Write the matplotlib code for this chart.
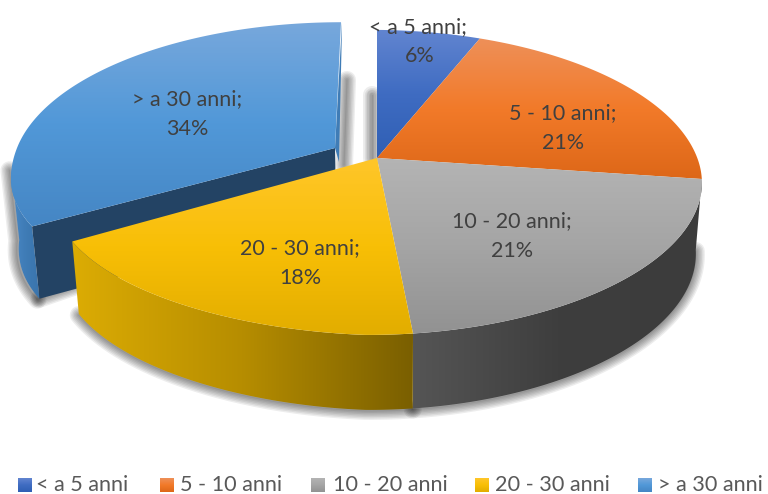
import numpy as np
import matplotlib
matplotlib.use("Agg")
import matplotlib.pyplot as plt
from matplotlib.patches import Polygon
from matplotlib.colors import LinearSegmentedColormap

plt.rcParams['font.family'] = ['Lato', 'DejaVu Sans']

categories = ["< a 5 anni", "5 - 10 anni", "10 - 20 anni", "20 - 30 anni", "> a 30 anni"]
shares = [6, 21, 21, 18, 34]

top_colors = [["#6285d0", "#3f6cc2", "#2f5fb4"],
              ["#ee9059", "#f27a29", "#dd6718"],
              ["#b4b4b4", "#a5a5a5", "#929292"],
              ["#ffc62a", "#f8bf06", "#e2ad00"],
              ["#78a8dc", "#5198d8", "#4586c4"]]
wall_colors = {2: ["#555555", "#3e3e3e", "#3c3c3c"],
               3: ["#dcac04", "#b68d00", "#7a5f00"],
               4: ["#4a8ac8", "#3f7cb6", "#3a74ac"]}

W, H = 768, 494
fig = plt.figure(figsize=(W / 100, H / 100), dpi=100)
ax = fig.add_axes([0, 0, 1, 1])
ax.set_xlim(0, W)
ax.set_ylim(H, 0)
ax.axis("off")

KEEP = 0.16
DEPTH = 75
NEAR_SHEAR = 12


def project(theta, apex, rx, ry, shear=0.0, near=0.0, flare=0.0, lift=0.0, sag=0.0):
    """Map a clockwise angle on the unit disc to the receding top face."""
    u, v = np.sin(theta), np.cos(theta)
    d = 1 + KEEP * v
    left = np.where((u < 0) & (v < 0), u * v ** 2, 0)
    x = apex[0] + rx * u / d + shear * v - near * np.where(v < 0, v ** 2, 0) + flare * left
    y = apex[1] - ry * v / d + lift * left + sag * np.where(u > 0, u, 0)
    return x, y


def drop(x, y):
    """Lower rim below a rim point: narrows a little towards the vanishing line."""
    return x + (400 - x) * 0.02, y + DEPTH * (0.92 + 0.08 * (y - 100) / 235)


def gradient(points, colors, horizontal=False, zorder=1):
    poly = Polygon(points, closed=True, fc="none", ec="none", transform=ax.transData)
    ax.add_patch(poly)
    cmap = LinearSegmentedColormap.from_list("g", colors)
    x0, x1 = points[:, 0].min(), points[:, 0].max()
    y0, y1 = points[:, 1].min(), points[:, 1].max()
    ramp = np.linspace(0, 1, 256)
    data = ramp[None, :] if horizontal else ramp[:, None]
    im = ax.imshow(data, cmap=cmap, extent=[x0, x1, y1, y0], aspect="auto",
                   interpolation="bilinear", zorder=zorder, vmin=0, vmax=1)
    im.set_clip_path(poly)
    ax.set_xlim(0, W)
    ax.set_ylim(H, 0)


def soft_stroke(x, y, zorder=0.5):
    """Blurred contact shadow along a rim."""
    for w in np.arange(13, 0, -2):
        ax.plot(x, y, color="#000000", lw=w, alpha=0.07, zorder=zorder,
                solid_capstyle="round", solid_joinstyle="round")


edges = 2 * np.pi * np.cumsum([0] + shares) / sum(shares)
main = dict(apex=(377, 158), rx=321, ry=148.6, near=NEAR_SHEAR, flare=20, lift=15, sag=2)
lifted = dict(apex=(335, 148), rx=318, ry=145.9, shear=6, flare=25, lift=29)

# Exploded slice: back to front so that the main disc covers it
th = np.linspace(edges[4], edges[5], 200)
bx, by = project(th, **lifted)
blx, bly = drop(bx, by)
ax_b = (335, 148)
mask = th < np.radians(262)
soft_stroke(np.r_[blx[mask], bx[mask][-1]] - 2, np.r_[bly[mask], by[mask][-1]] + 1)
soft_stroke([blx[0], 80], [bly[0], bly[0] - 14])
corner_x, corner_y = drop(*ax_b)
soft_stroke([bx[-1] + 6, bx[-1] + 3], [80, 165], zorder=0.6)
soft_stroke([372, 372], [95, 158], zorder=0.6)

outer = np.column_stack([np.r_[bx[mask], blx[mask][::-1]], np.r_[by[mask], bly[mask][::-1]]])
gradient(outer, wall_colors[4], horizontal=True, zorder=2)
end = np.column_stack([[bx[-1] + 1, bx[-1] + 1, ax_b[0] + 4, ax_b[0]],
                       [by[-1], by[-1] + 4, ax_b[1] + 14, ax_b[1]]])
ax.add_patch(Polygon(end, closed=True, fc="#3f7cb6", ec="none", zorder=2.1))
face = np.array([[ax_b[0], ax_b[1]], [bx[0], by[0]], [blx[0], bly[0]], [corner_x, corner_y]])
ax.add_patch(Polygon(face, closed=True, fc="#234364", ec="none", zorder=2.2))
top = np.column_stack([np.r_[ax_b[0], bx], np.r_[ax_b[1], by]])
gradient(top, top_colors[4], zorder=2.3)

# Main disc: outer walls
for i in (3, 2):
    th = np.linspace(edges[i], edges[i + 1], 160)
    x, y = project(th, **main)
    lx, ly = drop(x, y)
    soft_stroke(lx, ly + 1, zorder=0.7)
    wall = np.column_stack([np.r_[x, lx[::-1]], np.r_[y, ly[::-1]]])
    gradient(wall, wall_colors[i], horizontal=True, zorder=3)

# Main disc: top faces
for i in range(4):
    th = np.linspace(edges[i], edges[i + 1], 160)
    x, y = project(th, **main)
    pts = np.column_stack([np.r_[main["apex"][0], x], np.r_[main["apex"][1], y]])
    gradient(pts, top_colors[i], zorder=4)

# Data labels
label_xy = [(418, 27), (563, 113), (512, 221), (300, 248), (187.5, 99)]
for name, share, (lx, ly) in zip(categories, shares, label_xy):
    ax.text(lx, ly, f"{name};", ha="center", va="center", fontsize=15.5, color="#404040", zorder=6)
    ax.text(lx + (2 if share == 6 else 0), ly + 29.5, f"{share}%", ha="center", va="center",
            fontsize=15.5, color="#404040", zorder=6)

# Legend
swatch_x = [18, 160, 311, 475, 638]
legend_text_x = [36, 180, 333, 495, 658]
for i, (name, sx, tx) in enumerate(zip(categories, swatch_x, legend_text_x)):
    s = np.array([[sx, 478], [sx + 14, 478], [sx + 14, 492], [sx, 492]], float)
    gradient(s, top_colors[i], zorder=5)
    ax.text(tx, 484.5, name, ha="left", va="center", fontsize=15.6, color="#595959", zorder=6)

fig.savefig("out.png", dpi=100, facecolor="white")
